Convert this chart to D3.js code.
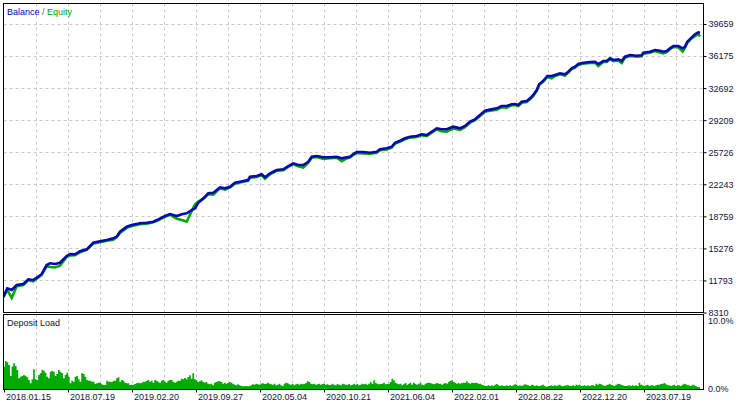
<!DOCTYPE html>
<html>
<head>
<meta charset="utf-8">
<script src="https://cdn.jsdelivr.net/npm/d3@7/dist/d3.min.js"></script>
<style>
  html, body { margin: 0; padding: 0; background: #fff; }
  svg { display: block; }
  text { font-family: "Liberation Sans", Arial, sans-serif; font-size: 9px; }
</style>
</head>
<body>
<svg id="chart" width="745" height="404"></svg>
<script>
// ---------------- DATA ----------------
const yTicks = [8310, 11793, 15276, 18759, 22243, 25726, 29209, 32692, 36175, 39659];
const dateLabels = ["2018.01.15", "2018.07.19", "2019.02.20", "2019.09.27", "2020.05.04",
  "2020.10.21", "2021.06.04", "2022.02.01", "2022.08.22", "2022.12.20", "2023.07.19"];
const loadTicks = [0, 10];

// trade index (x in deal-sequence units)
const tradeIdx = [0.3, 4.3, 8.7, 13.7, 20.3, 25.3, 30.3, 35.3, 38.7, 43.7, 47, 52, 57, 63.7, 67, 72, 77, 83.7,
  90.3, 97, 103.7, 110.3, 113.7, 117, 123.7, 128.7, 137, 143.7, 150.3, 155.3, 162, 167, 173.7, 178.7, 183.7,
  188.7, 192, 195.3, 200.3, 205.3, 210.3, 217, 222, 227, 232, 237, 245, 247, 253.7, 258.7, 262, 267, 273.7,
  280.3, 285.3, 290.3, 295.3, 300.3, 305.3, 308.7, 313.7, 320.3, 327, 333.7, 338.7, 343.7, 347, 350.3, 353.7,
  360.3, 367, 373.7, 377, 383.7, 388.7, 392, 397, 402, 407, 413.7, 418.7, 423.7, 428.7, 433.7, 438.7, 443.7,
  450.3, 457, 462, 467, 472, 477, 482, 487, 493.7, 498.7, 503.7, 508.7, 512, 515.3, 518.7, 523.7, 527, 530.3,
  533.7, 536.3, 540.3, 544.3, 548.7, 552, 557, 562, 565.3, 568.7, 572, 575.3, 580.3, 587, 592, 595.3, 600.3,
  603.7, 607, 610.3, 615.3, 618.7, 622, 627, 633.7, 638.7, 640.3, 647, 652, 657, 660.3, 663.7, 667, 670.3,
  675.3, 679.7, 682, 684.3, 687.7, 692, 695.3, 697];

const balance = [9972, 10885, 10700, 11244, 11352, 11863, 11787, 12145, 12439, 13417, 13601, 13525, 13666, 14394,
  14612, 14580, 14905, 15122, 15839, 15992, 16133, 16317, 16491, 17035, 17578, 17763, 17947, 18012, 18121, 18382,
  18740, 18958, 18740, 18925, 19034, 19392, 19577, 20185, 20664, 21207, 21272, 21859, 21750, 21924, 22359, 22467,
  22652, 23010, 23086, 23271, 22945, 23380, 23738, 23814, 24173, 24466, 24282, 24282, 24640, 25183, 25259, 25118,
  25118, 25183, 25010, 25118, 25183, 25477, 25694, 25694, 25618, 25727, 25987, 26096, 26270, 26704, 26922, 27182,
  27356, 27432, 27617, 27541, 27900, 28269, 28160, 28160, 28443, 28269, 28519, 28986, 29247, 29714, 30181, 30300,
  30442, 30692, 30692, 30876, 30909, 30801, 31159, 31235, 31529, 31887, 32430, 33082, 33441, 33951, 33951, 34060,
  34245, 34136, 34419, 34788, 34962, 35255, 35397, 35473, 35505, 35255, 35581, 35581, 35874, 35690, 35766, 35581,
  36049, 36233, 36157, 36200, 36483, 36592, 36776, 36700, 36592, 36668, 36961, 37211, 37211, 36961, 37135, 37678,
  38047, 38482, 38699, 38656];

const equity = [9900, 10700, 9850, 11100, 11250, 11750, 11650, 12050, 12350, 13300, 13200, 13150, 13350, 14300,
  14450, 14480, 14800, 15050, 15750, 15900, 16050, 16150, 16450, 16900, 17450, 17650, 17850, 17900, 18050, 18280,
  18650, 18880, 18440, 18300, 18121, 19300, 20000, 20300, 20600, 21100, 21050, 21750, 21600, 21850, 22250, 22380,
  22550, 22900, 22980, 23180, 22800, 23280, 23650, 23720, 24080, 24350, 24150, 24000, 24550, 25080, 25150, 24950,
  25020, 25080, 24700, 25000, 25080, 25380, 25600, 25550, 25500, 25620, 25880, 25980, 26180, 26600, 26830, 27080,
  27260, 27330, 27520, 27420, 27800, 28150, 27950, 27900, 28250, 28100, 28400, 28880, 29150, 29600, 30080, 30180,
  30300, 30550, 30500, 30780, 30800, 30680, 31050, 31120, 31420, 31800, 32350, 33000, 33350, 33850, 33700, 33950,
  34150, 34000, 34320, 34700, 34870, 35150, 35300, 35380, 35400, 35033, 35480, 35470, 35780, 35580, 35650, 35363,
  35950, 36130, 36050, 36100, 36380, 36490, 36680, 36500, 36410, 36560, 36860, 37110, 37080, 36610, 37000, 37560,
  37940, 38300, 38500, 38265];

// deposit load, percent, in deal order
const depositLoad = [3.28, 4.12, 3.92, 3.53, 1.91, 3.28, 3.77, 3.38, 2.79, 1.57, 1.81, 1.91, 2.06, 1.91, 1.72, 1.32,
  0.83, 1.42, 2.89, 1.42, 1.32, 2.06, 2.30, 2.79, 2.70, 2.40, 1.81, 1.57, 2.55, 2.65, 2.55, 1.91, 2.21, 2.79, 2.55,
  2.30, 1.57, 2.06, 2.40, 1.81, 0.83, 1.23, 1.08, 1.81, 1.91, 1.42, 1.08, 2.30, 2.21, 1.81, 1.32, 1.23, 1.23, 1.08,
  1.08, 0.74, 0.83, 0.93, 0.93, 0.69, 0.59, 0.59, 1.23, 1.08, 1.08, 1.03, 1.23, 1.23, 1.57, 1.72, 1.08, 1.32, 1.23,
  0.93, 0.83, 0.83, 0.59, 0.64, 0.64, 0.74, 0.83, 0.93, 0.83, 0.93, 1.08, 1.08, 1.23, 1.32, 1.08, 1.23, 0.93, 1.32,
  1.23, 1.08, 0.93, 1.23, 1.32, 1.08, 0.93, 1.23, 1.32, 1.32, 1.08, 0.93, 1.08, 1.23, 1.23,
  1.52, 1.42, 1.62, 1.42, 1.76, 2.01, 1.52, 2.30, 1.42, 1.27, 1.03, 1.13, 1.27, 1.03, 0.93, 1.03, 0.78, 0.69, 0.78,
  0.54, 0.93, 1.03, 1.13, 1.13, 1.03, 0.78, 0.93, 0.78, 0.88, 1.03, 0.93, 0.78, 0.64, 0.54, 0.69, 0.54, 0.44, 0.39,
  0.39, 0.44, 0.39, 0.44, 0.54, 0.69, 0.64, 0.78, 0.69, 0.64, 0.78, 0.83, 0.74, 0.78, 0.93, 0.78, 0.69, 0.64, 0.78,
  0.54, 0.64, 0.78, 0.54, 0.44, 0.78, 0.93, 0.83, 0.69, 0.64, 0.74, 0.54, 0.69, 0.78, 0.64, 0.78, 0.69, 0.74, 0.88,
  1.13, 1.03, 0.78, 0.69, 0.78, 0.64, 0.69, 0.78, 0.64, 0.74, 0.78, 0.64, 0.69, 0.59, 0.64, 0.78, 0.64, 0.54, 0.74,
  0.64, 0.54, 0.78, 0.69, 0.64, 0.64, 0.74, 0.54, 0.64, 0.78, 0.64, 0.74, 0.54, 0.64, 0.78, 0.69, 0.78, 0.64, 0.78,
  1.03, 0.78, 1.27, 0.93, 0.78, 0.69, 0.74, 0.78, 0.93, 0.69, 0.74, 0.78, 1.03, 1.52, 1.27, 0.93, 0.78, 0.69, 0.78,
  0.54, 0.69, 0.88, 0.64, 0.78, 0.93, 0.64, 0.93, 0.74, 0.64, 0.78, 0.93, 0.64, 0.54, 0.78, 0.88, 0.93, 0.88, 0.78,
  0.69, 0.78, 0.88, 0.78,
  0.78, 0.64, 0.78, 0.88, 0.78, 1.03, 1.18, 1.27, 1.03, 0.93, 0.78, 0.88, 0.78, 0.88, 0.93, 0.93, 1.13, 0.88, 0.78,
  0.93, 0.88, 0.88, 0.93, 0.78, 0.78, 0.64, 0.54, 0.44, 0.44, 0.54, 0.44, 0.54, 0.44, 0.64, 0.74, 0.54, 0.44, 0.54,
  0.44, 0.44, 0.54, 0.44, 0.54, 0.44, 0.54, 0.69, 0.64, 0.44, 0.54, 0.44, 0.54, 0.69, 0.64, 0.54, 0.44, 0.64, 0.54,
  0.44, 0.54, 0.44, 0.44, 0.54, 0.64, 0.44, 0.34, 0.39, 0.44, 0.54, 0.44, 0.54, 0.44, 0.54, 0.64, 0.44, 0.39, 0.49,
  0.54, 0.54, 0.49, 0.44, 0.54, 0.44, 0.64, 0.54, 0.64, 0.44, 0.49, 0.54, 0.44, 0.54, 0.44, 0.54, 0.54, 0.44, 0.78,
  0.64, 0.78, 0.69, 0.54, 0.44, 0.54, 0.64, 0.78, 0.64, 0.54, 0.44, 0.64, 0.78, 0.74, 0.64, 0.54, 0.44, 0.44, 0.49,
  0.54, 0.44, 0.54, 0.44, 0.54, 0.44, 0.93, 0.64, 0.54, 0.44, 0.54, 0.64, 0.44, 0.54, 0.54, 0.44, 0.54, 0.64, 0.64,
  0.74, 0.78, 0.88, 0.69, 0.54, 0.54, 0.44, 0.54, 0.64, 0.44, 0.54, 0.54, 0.44, 0.64, 0.78, 0.69, 0.54, 0.54, 0.44,
  0.64, 0.54, 0.44, 0.29, 0.25, 0.15];

// ---------------- LAYOUT ----------------
const L = 3.5, R = 703.5;
const mainTop = 3.5, mainBot = 312.5;
const subTop = 314.5, subBot = 389.5;

const svg = d3.select("#chart");
svg.append("rect").attr("width", 745).attr("height", 404).attr("fill", "#fff");

const x = d3.scaleLinear().domain([0, 697]).range([3, 700]);
const y = d3.scaleLinear().domain([8310, 39659]).range([312, 23.5]);
const yLoad = d3.scaleLinear().domain([0, 10]).range([389, 321]);
const xLoad = d3.scaleLinear().domain([0, depositLoad.length - 1]).range([0.3, 697]);

const gridColor = "#c8c8c8";
const textColor = "#14143c";

// vertical grid (every half date-step)
const vGrid = d3.range(1, 22).map(k => 1 + 32 * k);
[[mainTop, mainBot], [subTop, subBot]].forEach(([t, b]) => {
  svg.append("g").selectAll("line").data(vGrid).join("line")
    .attr("x1", d => Math.round(x(d)) + 0.5).attr("x2", d => Math.round(x(d)) + 0.5)
    .attr("y1", t).attr("y2", b)
    .attr("stroke", gridColor).attr("stroke-dasharray", "3,3");
});

// horizontal grid
svg.append("g").selectAll("line").data(yTicks.slice(1)).join("line")
  .attr("x1", L).attr("x2", R)
  .attr("y1", d => Math.round(y(d)) + 0.5).attr("y2", d => Math.round(y(d)) + 0.5)
  .attr("stroke", gridColor).attr("stroke-dasharray", "3,3");

// clip for main plot
svg.append("clipPath").attr("id", "clipMain").append("rect")
  .attr("x", L).attr("y", mainTop).attr("width", R - L).attr("height", mainBot - mainTop);

const pts = tradeIdx.map((t, i) => ({ t, b: balance[i], e: equity[i] }));

const eqLine = d3.line().x(d => x(d.t)).y(d => y(d.e)).curve(d3.curveLinear);
const balLine = d3.line().x(d => x(d.t)).y(d => y(d.b)).curve(d3.curveLinear);

svg.append("path").datum(pts).attr("d", eqLine)
  .attr("fill", "none").attr("stroke", "#00a800").attr("stroke-width", 2.6)
  .attr("clip-path", "url(#clipMain)");
svg.append("path").datum(pts).attr("d", balLine)
  .attr("fill", "none").attr("stroke", "#0808b0").attr("stroke-width", 2.6)
  .attr("clip-path", "url(#clipMain)");

// deposit load area
const loadArea = d3.area()
  .x((d, i) => x(xLoad(i)))
  .y0(yLoad(0)).y1(d => yLoad(d))
  .curve(d3.curveStepAfter);
svg.append("path").datum(depositLoad).attr("d", loadArea).attr("fill", "#00aa00");

// frames
const frame = svg.append("g").attr("fill", "none").attr("stroke", "#000").attr("stroke-width", 1);
frame.append("rect").attr("x", L).attr("y", mainTop).attr("width", R - L).attr("height", mainBot - mainTop);
frame.append("rect").attr("x", L).attr("y", subTop).attr("width", R - L).attr("height", subBot - subTop);

// right axis (balance)
const yAxis = d3.axisRight(y).tickValues(yTicks).tickSize(3).tickPadding(2).tickFormat(d3.format("d"));
const gy = svg.append("g").attr("transform", `translate(${R},0.5)`).call(yAxis);
gy.select(".domain").remove();
gy.selectAll("text").attr("fill", textColor).style("font-size", "9px")
  .attr("font-family", null);

// right axis (deposit load)
svg.append("g").selectAll("text").data(loadTicks).join("text")
  .attr("x", 708).attr("y", d => yLoad(d)).attr("dy", "0.35em")
  .attr("fill", textColor).text(d => d3.format(".1f")(d) + "%");

// x date axis
const datePos = dateLabels.map((d, i) => 1 + 64 * i);
const gx = svg.append("g");
gx.selectAll("line").data(datePos).join("line")
  .attr("x1", d => Math.round(x(d)) + 0.5).attr("x2", d => Math.round(x(d)) + 0.5)
  .attr("y1", subBot).attr("y2", subBot + 3).attr("stroke", "#000");
gx.selectAll("text").data(dateLabels).join("text")
  .attr("x", (d, i) => Math.round(x(datePos[i])) + 2)
  .attr("y", 400).attr("fill", textColor).text(d => d);

// legends
const leg = svg.append("text").attr("x", 7).attr("y", 15);
leg.append("tspan").attr("fill", "#0000c8").text("Balance");
leg.append("tspan").attr("fill", "#5a5aa0").text(" / ");
leg.append("tspan").attr("fill", "#00a000").text("Equity");

svg.append("text").attr("x", 7).attr("y", 326).attr("fill", "#141414").text("Deposit Load");
</script>
</body>
</html>
